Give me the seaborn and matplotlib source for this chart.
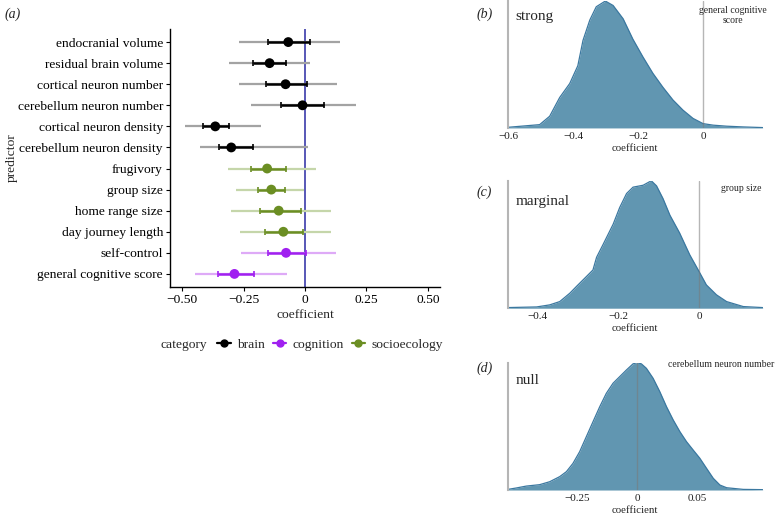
import matplotlib
matplotlib.use("Agg")
import matplotlib.pyplot as plt
from matplotlib.lines import Line2D
import seaborn as sns
import numpy as np
import pandas as pd

# --- panel (a): posterior summaries per predictor ---
predictors = ["endocranial volume", "residual brain volume", "cortical neuron number",
              "cerebellum neuron number", "cortical neuron density", "cerebellum neuron density",
              "frugivory", "group size", "home range size", "day journey length",
              "self-control", "general cognitive score"]
categories = ["brain"] * 6 + ["socioecology"] * 4 + ["cognition"] * 2
estimate = [-0.068, -0.144, -0.079, -0.010, -0.365, -0.300,
            -0.154, -0.137, -0.107, -0.088, -0.077, -0.287]
inner_lo = [-0.151, -0.213, -0.160, -0.096, -0.416, -0.351,
            -0.221, -0.193, -0.183, -0.164, -0.152, -0.355]
inner_hi = [0.019, -0.076, 0.008, 0.076, -0.310, -0.212,
            -0.079, -0.082, -0.015, -0.007, 0.005, -0.209]
outer_lo = [-0.269, -0.310, -0.270, -0.219, -0.488, -0.429,
            -0.313, -0.279, -0.302, -0.266, -0.262, -0.447]
outer_hi = [0.143, 0.020, 0.129, 0.207, -0.179, 0.011,
            0.045, -0.003, 0.107, 0.107, 0.126, -0.075]

cat_colors = {"brain": "#000000", "cognition": "#a020f0", "socioecology": "#6b8e23"}
cat_light = {"brain": "#a3a3a3", "cognition": "#deaaf7", "socioecology": "#c5d6aa"}

# --- panels (b)-(d): posterior density curves ---
strong_x = [-0.603, -0.505, -0.474, -0.443, -0.412, -0.387, -0.371, -0.350, -0.330, -0.302,
            -0.278, -0.247, -0.217, -0.186, -0.155, -0.124, -0.093, -0.062, -0.031, 0.0,
            0.031, 0.072, 0.124, 0.184]
strong_y = [0.005, 0.026, 0.092, 0.240, 0.350, 0.490, 0.690, 0.850, 0.955, 1.0,
            0.965, 0.860, 0.700, 0.560, 0.430, 0.320, 0.220, 0.140, 0.075, 0.034,
            0.022, 0.014, 0.008, 0.003]

marginal_x = [-0.472, -0.401, -0.369, -0.344, -0.319, -0.303, -0.278, -0.262, -0.253, -0.237,
              -0.212, -0.196, -0.179, -0.163, -0.138, -0.118, -0.105, -0.089, -0.072, -0.048,
              -0.023, 0.0, 0.018, 0.043, 0.068, 0.109, 0.157]
marginal_y = [0.005, 0.010, 0.026, 0.052, 0.118, 0.170, 0.249, 0.300, 0.400, 0.500,
              0.660, 0.790, 0.900, 0.950, 0.965, 1.0, 0.960, 0.860, 0.730, 0.590,
              0.419, 0.288, 0.183, 0.105, 0.052, 0.013, 0.005]

null_x = [-0.108, -0.101, -0.0926, -0.0815, -0.0731, -0.0647, -0.0591, -0.0536, -0.0480, -0.0424,
          -0.0368, -0.0312, -0.0257, -0.0201, -0.0145, -0.0089, -0.0034, 0.0, 0.0036, 0.0078,
          0.0134, 0.0190, 0.0246, 0.0302, 0.0358, 0.0413, 0.0469, 0.0525, 0.0581, 0.0637,
          0.0693, 0.0749, 0.0888, 0.1050]
null_y = [0.005, 0.016, 0.031, 0.042, 0.065, 0.105, 0.144, 0.209, 0.301, 0.419,
          0.537, 0.654, 0.759, 0.838, 0.890, 0.942, 0.990, 1.0, 0.990, 0.955,
          0.877, 0.772, 0.654, 0.550, 0.458, 0.380, 0.314, 0.249, 0.170, 0.092,
          0.039, 0.018, 0.005, 0.003]

sns.set_theme(style="white")
plt.rcParams["font.family"] = ["Liberation Serif", "DejaVu Serif"]
plt.rcParams["axes.unicode_minus"] = True

fig = plt.figure(figsize=(7.79, 5.18), dpi=100)

# ---------------- panel (a) ----------------
ax = fig.add_axes([0.218, 0.446, 0.347, 0.498])
df = pd.DataFrame({"predictor": predictors, "category": categories, "estimate": estimate,
                   "inner_lo": inner_lo, "inner_hi": inner_hi,
                   "outer_lo": outer_lo, "outer_hi": outer_hi})
df["pos"] = np.arange(len(df))

ax.axvline(0, color="#3b3baa", lw=1.2, zorder=1)
for _, r in df.iterrows():
    ax.hlines(r["pos"], r["outer_lo"], r["outer_hi"], color=cat_light[r["category"]],
              lw=1.6, zorder=2)
    ax.errorbar(r["estimate"], r["pos"],
                xerr=[[r["estimate"] - r["inner_lo"]], [r["inner_hi"] - r["estimate"]]],
                fmt="none", ecolor=cat_colors[r["category"]], elinewidth=1.8,
                capsize=2, capthick=1.2, zorder=3)
sns.scatterplot(data=df, x="estimate", y="pos", hue="category", palette=cat_colors,
                s=50, edgecolor="none", legend=False, ax=ax, zorder=4)

ax.set_xlim(-0.55, 0.55)
ax.set_ylim(11.62, -0.62)
ax.set_yticks(df["pos"])
ax.set_yticklabels(predictors, fontsize=9.7)
ax.set_xticks([-0.5, -0.25, 0, 0.25, 0.5])
ax.set_xticklabels(["\u22120.50", "\u22120.25", "0", "0.25", "0.50"], fontsize=9.7)
ax.set_xlabel("coefficient", fontsize=9.7, labelpad=2)
ax.set_ylabel("")
for s in ["top", "right"]:
    ax.spines[s].set_visible(False)
for s in ["left", "bottom"]:
    ax.spines[s].set_color("black")
    ax.spines[s].set_linewidth(1.0)
ax.tick_params(axis="both", which="both", length=3, width=0.8, color="black",
               bottom=True, left=True, pad=2, labelcolor="black")

fig.text(0.015, 0.695, "predictor", fontsize=9.7, rotation=90, ha="center", va="center")
fig.text(0.006, 0.985, "(a)", fontsize=10, style="italic", va="top")

fig.text(0.206, 0.334, "category", fontsize=9.7, va="center")
handles = [Line2D([0], [0], color=cat_colors[c], marker="o", markersize=5, lw=1.6)
           for c in ["brain", "cognition", "socioecology"]]
fig.legend(handles, ["brain", "cognition", "socioecology"], loc="center left",
           bbox_to_anchor=(0.272, 0.334), ncol=3, frameon=False, fontsize=9.7,
           handlelength=1.0, handletextpad=0.45, columnspacing=0.6, borderaxespad=0)

# ---------------- panels (b)-(d) ----------------
panels = [
    ([0.652, 0.753, 0.327, 0.245], strong_x, strong_y, "strong", "general cognitive\nscore",
     [-0.6, -0.4, -0.2, 0], ["\u22120.6", "\u22120.4", "\u22120.2", "0"], "(b)", 0.985,
     0.941, 0.93),
    ([0.652, 0.405, 0.327, 0.246], marginal_x, marginal_y, "marginal", "group size",
     [-0.4, -0.2, 0], ["\u22120.4", "\u22120.2", "0"], "(c)", 0.641,
     0.952, 0.89),
    ([0.652, 0.054, 0.327, 0.246], null_x, null_y, "null", "cerebellum neuron number",
     [-0.05, 0, 0.05], ["\u22120.25", "0", "0.05"], "(d)", 0.302,
     0.926, 0.91),
]
for rect, xs, ys, word, pred, ticks, tlabels, plabel, py, tx, wy in panels:
    dax = fig.add_axes(rect)
    dax.fill_between(xs, 0, ys, color="#6196b1", lw=0, zorder=1)
    sns.lineplot(x=xs, y=ys, color="#3b78a0", lw=0.9, ax=dax, zorder=2, sort=False)
    dax.axvline(0, color="#7a7a7a", lw=1.0, alpha=0.55, zorder=3)
    dax.set_xlim(xs[0], xs[-1])
    dax.set_ylim(0, 1.0)
    dax.set_yticks([])
    dax.set_xticks(ticks)
    dax.set_xticklabels(tlabels, fontsize=8)
    dax.tick_params(axis="x", length=0, pad=3, labelcolor="#222222")
    dax.set_xlabel("coefficient", fontsize=7.8, labelpad=2)
    for s in ["top", "right", "bottom"]:
        dax.spines[s].set_visible(False)
    dax.spines["left"].set_color("#b5b5b5")
    dax.spines["left"].set_linewidth(1.5)
    dax.text(0.03, wy, word, transform=dax.transAxes, fontsize=11, va="top", ha="left")
    fig.text(tx, py + 0.003, pred, fontsize=7, ha="center", va="top", linespacing=1.1)
    fig.text(0.612, py, plabel, fontsize=10, style="italic", va="top")

fig.savefig("out.png", dpi=100)
